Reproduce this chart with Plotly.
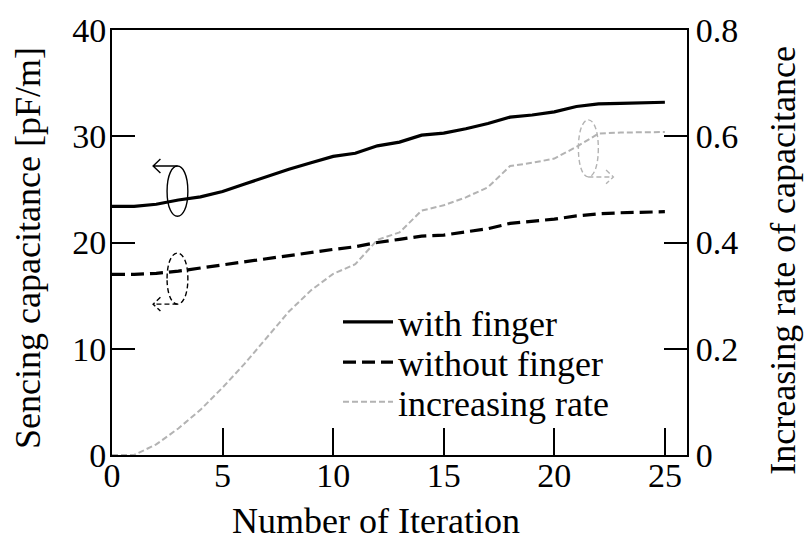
import plotly.graph_objects as go

# Iteration index
iterations = list(range(26))

# Sensing capacitance [pF/m]
with_finger = [23.4, 23.4, 23.6, 24.0, 24.3, 24.8, 25.5, 26.2, 26.9, 27.5,
               28.1, 28.4, 29.1, 29.45, 30.1, 30.3, 30.7, 31.2, 31.8, 32.0,
               32.3, 32.8, 33.05, 33.1, 33.15, 33.2]
without_finger = [17.0, 17.0, 17.1, 17.3, 17.6, 17.9, 18.2, 18.5, 18.8, 19.1,
                  19.35, 19.6, 20.0, 20.3, 20.6, 20.7, 21.0, 21.3, 21.8, 22.0,
                  22.2, 22.5, 22.7, 22.8, 22.85, 22.9]
# Increasing rate of capacitance
increasing_rate = [0.0, 0.0, 0.02, 0.05, 0.085, 0.127, 0.172, 0.222, 0.27, 0.31,
                   0.341, 0.359, 0.405, 0.419, 0.46, 0.47, 0.485, 0.504, 0.544, 0.55,
                   0.558, 0.58, 0.605, 0.607, 0.608, 0.608]

x_ticks = [0, 5, 10, 15, 20, 25]
left_ticks = [0, 10, 20, 30, 40]
right_ticks = [0, 0.2, 0.4, 0.6, 0.8]
right_tick_text = ["0", "0.2", "0.4", "0.6", "0.8"]

FONT = "Liberation Serif"
GRAY = "#b3b3b3"
TICK_FS = 34
LEGEND_FS = 36
TITLE_FS = 36

# plot-area geometry in pixels, used to place the legends and titles
L, R, T, B = 112, 687, 24, 455
PW, PH = R - L, B - T


def px_x(p):
    return (p - L) / PW


def px_y(p):
    return (B - p) / PH


fig = go.Figure()
fig.add_trace(go.Scatter(x=iterations, y=with_finger, mode="lines", name="with finger",
                         line=dict(color="black", width=3.2), legend="legend"))
fig.add_trace(go.Scatter(x=iterations, y=without_finger, mode="lines", name="without finger",
                         line=dict(color="black", width=3.2, dash="13px,6px"), legend="legend2"))
fig.add_trace(go.Scatter(x=iterations, y=increasing_rate, mode="lines", name="increasing rate",
                         line=dict(color=GRAY, width=2, dash="6px,3px"), yaxis="y2",
                         legend="legend3"))


def ellipse_path(cx, cy, rx, ry):
    return (f"M {cx - rx},{cy} "
            f"C {cx - rx},{cy + ry*1.33} {cx + rx},{cy + ry*1.33} {cx + rx},{cy} "
            f"C {cx + rx},{cy - ry*1.33} {cx - rx},{cy - ry*1.33} {cx - rx},{cy} Z")


def arrow_path(x0, x1, y, hx, hy):
    # horizontal shaft from x0 to x1 with an open chevron head at x1
    d = 1 if x1 > x0 else -1
    return (f"M {x0},{y} L {x1},{y} "
            f"M {x1 - d*hx},{y + hy} L {x1},{y} L {x1 - d*hx},{y - hy}")


shapes = []
# marker for the solid curve -> left axis
shapes.append(dict(type="path", xref="x", yref="y", path=ellipse_path(2.96, 24.83, 0.47, 2.37),
                   line=dict(color="black", width=1.4)))
shapes.append(dict(type="path", xref="x", yref="y", path=arrow_path(2.96, 1.86, 27.2, 0.33, 0.65),
                   line=dict(color="black", width=1.4)))
# marker for the dashed curve -> left axis
shapes.append(dict(type="path", xref="x", yref="y", path=ellipse_path(2.96, 16.6, 0.47, 2.41),
                   line=dict(color="black", width=1.4, dash="5px,3px")))
shapes.append(dict(type="path", xref="x", yref="y", path=arrow_path(2.96, 1.86, 14.2, 0.33, 0.65),
                   line=dict(color="black", width=1.4, dash="5px,3px")))
# marker for the rate curve -> right axis
shapes.append(dict(type="path", xref="x", yref="y", path=ellipse_path(21.54, 28.86, 0.45, 2.69),
                   line=dict(color=GRAY, width=1.4, dash="5px,3px")))
shapes.append(dict(type="path", xref="x", yref="y", path=arrow_path(21.54, 22.67, 26.17, 0.33, 0.65),
                   line=dict(color=GRAY, width=1.4, dash="5px,3px")))

axis_common = dict(showgrid=False, zeroline=False, showline=True, linecolor="black",
                   linewidth=2, ticks="inside", tickcolor="black", tickwidth=2,
                   tickfont=dict(family=FONT, size=TICK_FS, color="black"))

title_font = dict(family=FONT, size=TITLE_FS, color="black")
annotations = [
    dict(text="Number of Iteration", xref="paper", yref="paper",
         x=px_x(376), y=px_y(522), xanchor="center", yanchor="middle",
         showarrow=False, font=title_font),
    dict(text="Sencing capacitance [pF/m]", xref="paper", yref="paper",
         x=px_x(28), y=px_y(245), xanchor="center", yanchor="middle",
         textangle=-90, showarrow=False, font=title_font),
    dict(text="Increasing rate of capacitance", xref="paper", yref="paper",
         x=px_x(783), y=px_y(258), xanchor="center", yanchor="middle",
         textangle=-90, showarrow=False, font=title_font),
]


def legend_at(row_center):
    return dict(x=px_x(338), y=px_y(row_center), xanchor="left", yanchor="middle",
                font=dict(family=FONT, size=LEGEND_FS, color="black"),
                bgcolor="rgba(0,0,0,0)", itemwidth=50)


fig.update_layout(
    width=805, height=542,
    margin=dict(l=L, r=805 - R, t=T, b=542 - B),
    plot_bgcolor="white", paper_bgcolor="white",
    showlegend=True,
    legend=legend_at(320),
    legend2=legend_at(361),
    legend3=legend_at(401),
    xaxis=dict(range=[0, 26], tickvals=x_ticks, ticklen=27, mirror=True,
               ticklabelstandoff=-11, **axis_common),
    yaxis=dict(range=[0, 40], tickvals=left_ticks, ticklen=23,
               ticklabelstandoff=-3, **axis_common),
    yaxis2=dict(range=[0, 0.8], tickvals=right_ticks, ticktext=right_tick_text, ticklen=23,
                overlaying="y", side="right", ticklabelstandoff=0, **axis_common),
    shapes=shapes,
    annotations=annotations,
)

fig.write_html("out.html")
